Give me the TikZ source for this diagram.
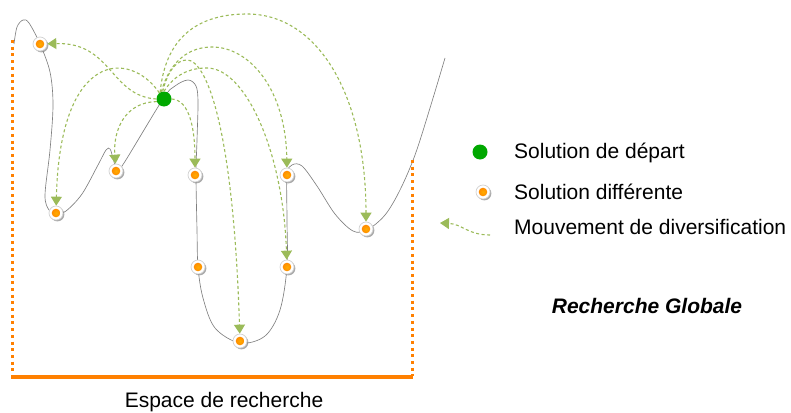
\documentclass[tikz,border=0pt]{standalone}
\usepackage{fontspec}
\setmainfont{Liberation Sans}
\usetikzlibrary{arrows.meta,shadows}
\definecolor{mvgreen}{RGB}{155,187,89}
\definecolor{solgreen}{RGB}{0,168,0}
\definecolor{espace}{RGB}{255,128,0}
\definecolor{orlight}{RGB}{255,172,0}
\definecolor{ordark}{RGB}{255,120,0}
\begin{document}
\begin{tikzpicture}[x=1pt,y=-1pt,
  land/.style={draw=black!50, line width=0.65pt},
  mv/.style={draw=mvgreen, line width=1.1pt, dash pattern=on 3pt off 2.5pt,
    -{Triangle[length=9pt,width=11pt,fill=mvgreen]}},
  sol/.style={circle, minimum size=14pt, inner sep=0pt, fill=white, draw=black!18, line width=0.7pt,
    drop shadow={shadow xshift=1.4pt, shadow yshift=-1.4pt, fill=black!55, opacity=0.6},
    path picture={\shade[inner color=orlight, outer color=ordark] (path picture bounding box.center) circle (4.3pt);}},
  start/.style={circle, minimum size=15pt, inner sep=0pt, fill=solgreen},
  txt/.style={inner sep=0pt, font=\fontsize{21}{25}\selectfont},
  dotline/.style={draw=espace, line width=3pt, dash pattern=on 3pt off 3.7pt},
]
\useasboundingbox (0,0) rectangle (791,412);

% landscape curve
\draw[land] plot[smooth, tension=0.55] coordinates {
 (14,44) (17,27) (23,20) (29,23) (40,44) (50,72) (53,105) (50,150) (45,195) (49,210) (56,214)
 (66,211) (82,194) (98,165) (106,150) (110,149) (113,158) (117,170) (124,163) (163,99)
 (175,86) (188,80) (196,86) (198,102) (197,140) (196,175) (197,230) (198,267) (203,298)
 (215,328) (240,343) (265,336) (280,310) (287,267) (287,220) (287,175) (292,165) (302,166)
 (317,186) (335,214) (353,231) (367,230) (385,215) (400,190) (415,155) (430,108) (445,58)};

% search space bracket
\coordinate (bl) at (12,377);
\coordinate (br) at (412,377);
\coordinate (tl) at (12,40);
\coordinate (tr) at (412,160);
\draw[dotline] (tl) -- ([yshift=1.5pt]bl);
\draw[dotline] (tr) -- ([yshift=1.5pt]br);
\draw[draw=espace, line width=3.3pt] ([xshift=-1pt]bl) -- ([xshift=1pt]br);

% nodes
\node[start] (g) at (164,99) {};
\node[sol] (n1) at (40,44) {};
\node[sol] (n2) at (56,213) {};
\node[sol] (n3) at (116,171) {};
\node[sol] (n4) at (195,175) {};
\node[sol] (n5) at (198,267) {};
\node[sol] (n6) at (240,341) {};
\node[sol] (n7) at (287,175) {};
\node[sol] (n8) at (287,267) {};
\node[sol] (n9) at (366,229) {};

% diversification moves
\draw[mv] (g.180) .. controls (110,96) and (112,42) .. (n1);
\draw[mv] (g.127) .. controls (130,50) and (60,50) .. (n2);
\draw[mv] (g.200) .. controls (125,102) and (113,130) .. (n3);
\draw[mv] (g.0) .. controls (190,100) and (195,130) .. (n4);
\coordinate (pA) at (247,14);
\coordinate (pB) at (212,47);
\coordinate (pC) at (187,60);
\coordinate (pD) at (207,68);
\draw[mv] (g.120) .. controls (165,40) and (195,14) .. (pA) .. controls (318,14) and (366,95) .. (n9);
\draw[mv] (g.110) .. controls (170,60) and (190,47) .. (pB) .. controls (250,47) and (286,90) .. (n7);
\draw[mv] (g.100) .. controls (168,70) and (177,60) .. (pC) .. controls (205,60) and (233,120) .. (n6);
\draw[mv] (g.90) .. controls (175,74) and (190,68) .. (pD) .. controls (245,68) and (283,150) .. (n8);

% legend
\node[start] (lg) at (480,152) {};
\node[sol] (lo) at (483,192) {};
\coordinate (la) at (490,235);
\coordinate (lb) at (440,223);
\draw[mv] (la) .. controls (468,235) and (462,224) .. (lb);
\node[txt, anchor=base west] (t1) at (514,158) {Solution de départ};
\node[txt, anchor=base west] (t2) at (514,199) {Solution différente};
\node[txt, anchor=base west] (t3) at (514,234) {Mouvement de diversification};
\node[txt, anchor=base, font=\fontsize{21}{25}\selectfont\bfseries\itshape] (t4) at (647,313) {Recherche Globale};
\node[txt, anchor=base] (t5) at (224,407) {Espace de recherche};
\end{tikzpicture}
\end{document}
